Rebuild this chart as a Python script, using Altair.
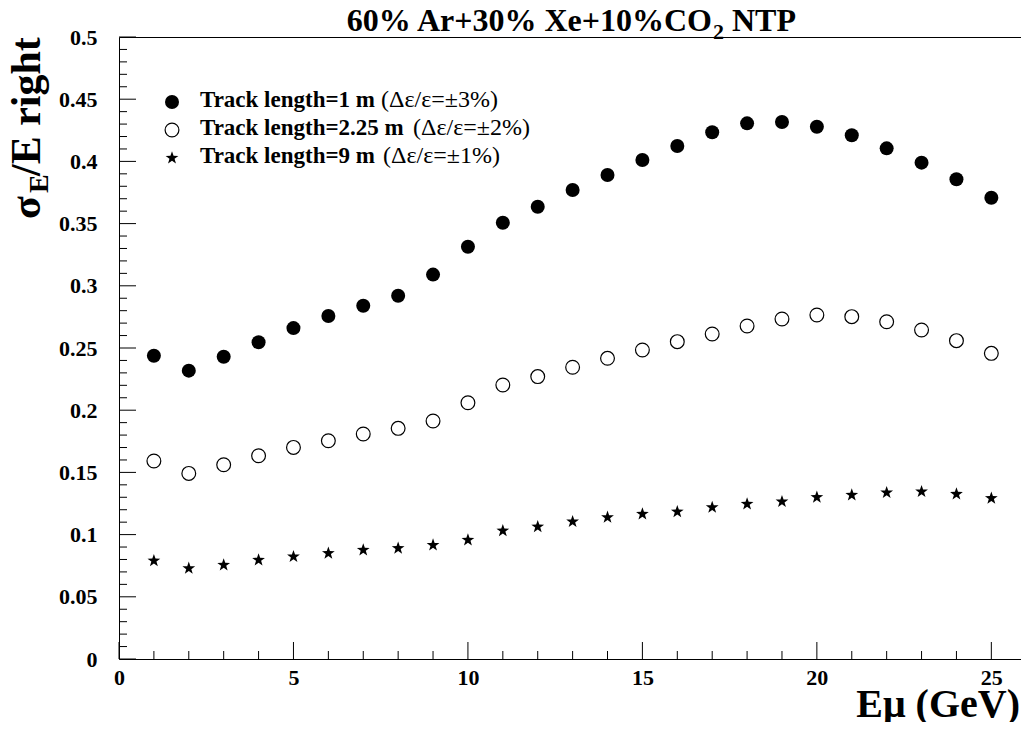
import altair as alt
import pandas as pd

SERIF = "Liberation Serif"

# ---- data ----
energy = [1, 2, 3, 4, 5, 6, 7, 8, 9, 10, 11, 12, 13, 14, 15, 16, 17, 18, 19, 20, 21, 22, 23, 24, 25]
sigma_1m = [0.2438, 0.2318, 0.2430, 0.2546, 0.2660, 0.2757, 0.2840, 0.2920, 0.3090, 0.3314,
            0.3507, 0.3636, 0.3770, 0.3891, 0.4011, 0.4124, 0.4234, 0.4306, 0.4317, 0.4279,
            0.4210, 0.4105, 0.3990, 0.3856, 0.3708]
sigma_225m = [0.1592, 0.1492, 0.1562, 0.1634, 0.1701, 0.1755, 0.1809, 0.1854, 0.1913, 0.2060,
              0.2203, 0.2270, 0.2345, 0.2417, 0.2484, 0.2551, 0.2613, 0.2677, 0.2733, 0.2765,
              0.2752, 0.2711, 0.2645, 0.2559, 0.2457]
sigma_9m = [0.0790, 0.0729, 0.0756, 0.0796, 0.0823, 0.0850, 0.0876, 0.0890, 0.0916, 0.0957,
            0.1031, 0.1063, 0.1104, 0.1139, 0.1166, 0.1184, 0.1219, 0.1246, 0.1265, 0.1300,
            0.1318, 0.1337, 0.1345, 0.1326, 0.1292]

x_major = [0, 5, 10, 15, 20, 25]
x_minor = [1, 2, 3, 4, 6, 7, 8, 9, 11, 12, 13, 14, 16, 17, 18, 19, 21, 22, 23, 24]
y_major = [0, 0.05, 0.1, 0.15, 0.2, 0.25, 0.3, 0.35, 0.4, 0.45, 0.5]
y_minor = [0.01, 0.02, 0.03, 0.04, 0.06, 0.07, 0.08, 0.09, 0.11, 0.12, 0.13, 0.14,
           0.16, 0.17, 0.18, 0.19, 0.21, 0.22, 0.23, 0.24, 0.26, 0.27, 0.28, 0.29,
           0.31, 0.32, 0.33, 0.34, 0.36, 0.37, 0.38, 0.39, 0.41, 0.42, 0.43, 0.44,
           0.46, 0.47, 0.48, 0.49]

legend_main = ["Track length=1 m", "Track length=2.25 m", "Track length=9 m"]
legend_paren = ["(\u0394\u03b5/\u03b5=\u00b13%)", "(\u0394\u03b5/\u03b5=\u00b12%)", "(\u0394\u03b5/\u03b5=\u00b11%)"]

STAR = ("M0,-1L0.235,-0.324L0.951,-0.309L0.380,0.124L0.588,0.809L0,0.4"
        "L-0.588,0.809L-0.380,0.124L-0.951,-0.309L-0.235,-0.324Z")

W, H = 902, 622
xs = alt.Scale(domain=[0, 25.85], nice=False, zero=False)
ys = alt.Scale(domain=[0, 0.5], nice=False, zero=False)

x_axis = alt.Axis(values=x_major, format="d", labelFont=SERIF, labelFontWeight="bold",
                  labelFontSize=22, labelColor="black", ticks=False, domain=False,
                  grid=False, labelPadding=8, title=None, labelOverlap=False,
                  labelFlush=False)
y_axis = alt.Axis(values=y_major, format=".2~f", labelFont=SERIF, labelFontWeight="bold",
                  labelFontSize=22, labelColor="black", ticks=False, domain=False,
                  grid=False, labelPadding=22, title=None, labelOverlap=False,
                  labelFlush=False)

df1 = pd.DataFrame({"E": energy, "s": sigma_1m})
df2 = pd.DataFrame({"E": energy, "s": sigma_225m})
df3 = pd.DataFrame({"E": energy, "s": sigma_9m})


def xy():
    return dict(x=alt.X("E:Q", scale=xs, axis=x_axis), y=alt.Y("s:Q", scale=ys, axis=y_axis))


p1 = alt.Chart(df1).mark_point(shape="circle", filled=True, size=196, color="black",
                               opacity=1).encode(**xy())
p2 = alt.Chart(df2).mark_point(shape="circle", filled=False, size=190, color="black",
                               strokeWidth=1.2, opacity=1).encode(**xy())
p3 = alt.Chart(df3).mark_point(shape=STAR, filled=True, size=180, color="black",
                               opacity=1, strokeWidth=0).encode(**xy())


def xticks(vals, length):
    return alt.Chart(pd.DataFrame({"v": vals})).mark_rule(color="black", strokeWidth=1).encode(
        x=alt.X("v:Q", scale=xs, axis=x_axis), y=alt.value(H), y2=alt.value(H - length))


def yticks(vals, length):
    return alt.Chart(pd.DataFrame({"v": vals})).mark_rule(color="black", strokeWidth=1).encode(
        y=alt.Y("v:Q", scale=ys, axis=y_axis), x=alt.value(0), x2=alt.value(length))


def label(t, x, y, size, weight="bold", align="left", angle=0):
    kw = dict(align=align, baseline="alphabetic", font=SERIF, fontSize=size,
              fontWeight=weight, color="black")
    if angle:
        kw["angle"] = angle
    return alt.Chart(pd.DataFrame({"t": [t]})).mark_text(**kw).encode(
        x=alt.value(x), y=alt.value(y), text="t:N")


def legend_symbol(y, **mk):
    return alt.Chart(pd.DataFrame({"a": [0]})).mark_point(color="black", opacity=1, **mk).encode(
        x=alt.value(53), y=alt.value(y))


layers = [
    p1, p2, p3,
    xticks(x_major, 17), xticks(x_minor, 8), yticks(y_major, 17), yticks(y_minor, 8),
    # title
    label("60% Ar+30% Xe+10%CO", 593, -6, 32, align="right"),
    label("2", 594, 2, 22),
    label("NTP", 613, -6, 32),
    # y title (rotated)
    label("\u03c3", -79, 182, 42, angle=270),
    label("E", -71, 156, 28, angle=270),
    label("/E right", -79, 139, 42, angle=270),
    # x title
    label("E\u03bc (GeV)", 901, 680, 40, align="right"),
    # legend
    legend_symbol(65, shape="circle", filled=True, size=196),
    legend_symbol(93, shape="circle", filled=False, size=190, strokeWidth=1.2),
    legend_symbol(121, shape=STAR, filled=True, size=180, strokeWidth=0),
    label(legend_main[0], 81, 70, 23),
    label(legend_main[1], 81, 98, 23),
    label(legend_main[2], 81, 126, 23),
    label(legend_paren[0], 262, 70, 24, weight="normal"),
    label(legend_paren[1], 294, 98, 24, weight="normal"),
    label(legend_paren[2], 264, 126, 24, weight="normal"),
]

chart = alt.layer(*layers).properties(
    width=W, height=H,
    padding={"left": 111, "top": 29, "right": 0, "bottom": 63},
    autosize="none", background="white",
).configure_view(stroke="black", strokeWidth=1).configure_axis(
    labelFont=SERIF, labelFontWeight="bold", labelFontSize=22, labelColor="black")

chart.save("out.html", embed_options={"renderer": "svg", "actions": False})
